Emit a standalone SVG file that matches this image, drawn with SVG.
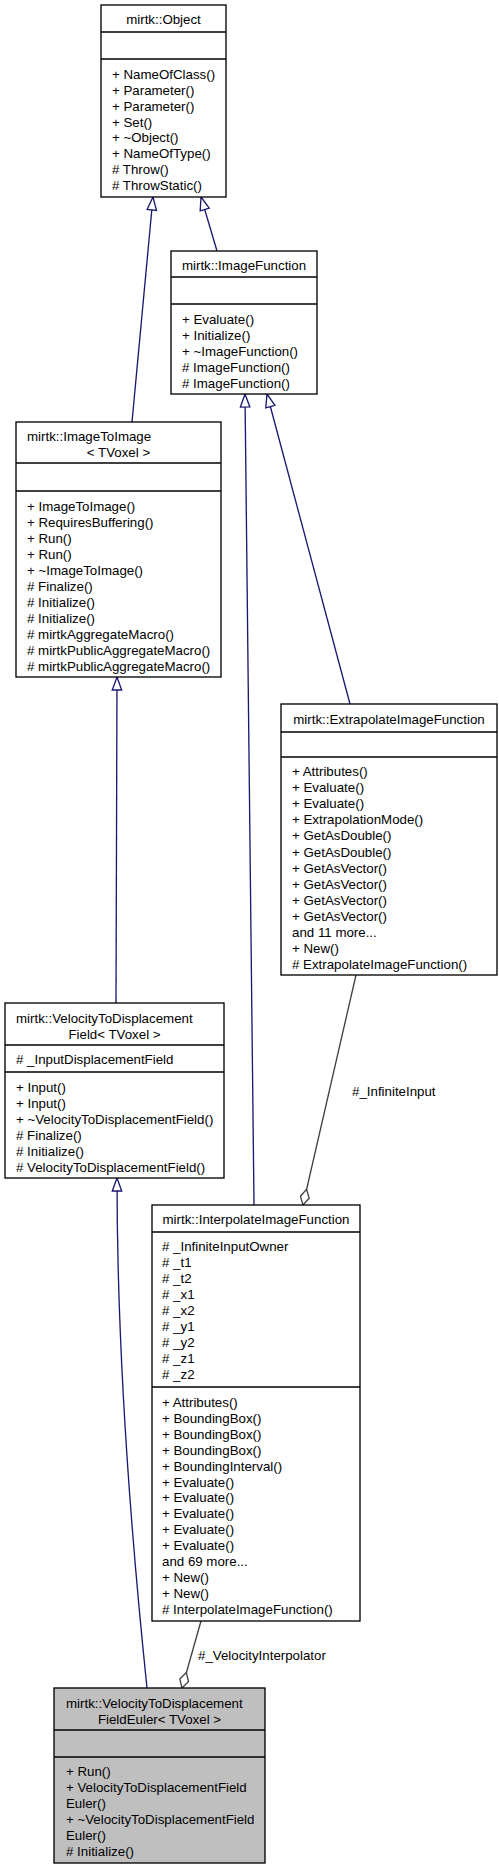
<svg xmlns="http://www.w3.org/2000/svg" width="499" height="1872" viewBox="0 0 499 1872">
<style>
text{font-family:"Liberation Sans",Arial,sans-serif;font-size:13.3px;fill:#000}
.c{text-anchor:middle}
.box{fill:#fff;stroke:#000;stroke-width:1.33}
.cur{fill:#bfbfbf;stroke:#000;stroke-width:1.33}
.sep{stroke:#000;stroke-width:1.33}
.inh{fill:none;stroke:#191970;stroke-width:1.33;marker-end:url(#tri)}
.use{fill:none;stroke:#404040;stroke-width:1.33;marker-end:url(#dia)}
</style>
<defs>
<marker id="tri" markerUnits="userSpaceOnUse" markerWidth="16" markerHeight="12" refX="13" refY="5" orient="auto" overflow="visible">
<path d="M0,0.3 L13,5 L0,9.7 Z" fill="#fff" stroke="#191970" stroke-width="1.33"/>
</marker>
<marker id="dia" markerUnits="userSpaceOnUse" markerWidth="18" markerHeight="10" refX="16" refY="4.5" orient="auto" overflow="visible">
<path d="M0,4.5 L8,0 L16,4.5 L8,9 Z" fill="#fff" stroke="#404040" stroke-width="1.33"/>
</marker>
</defs>
<rect width="499" height="1872" fill="#fff"/>

<g id="connectors">
<path class="inh" d="M132,422 L153,197"/>
<path class="inh" d="M217,251 L201,197"/>
<path class="inh" d="M350,704 L267,394"/>
<path class="inh" d="M254,1205 L245,394"/>
<path class="inh" d="M116,1003 L117,677"/>
<path class="inh" d="M147,1688 Q117,1400 117,1178"/>
<path class="use" d="M356,975 L303,1205"/>
<path class="use" d="M201,1621 L182,1688"/>
<text x="352" y="1096">#_InfiniteInput</text>
<text x="198" y="1660">#_VelocityInterpolator</text>
</g>

<g id="node-Object">
<rect class="box" x="101" y="5" width="125" height="192"/>
<line class="sep" x1="101" y1="32" x2="226" y2="32"/>
<line class="sep" x1="101" y1="59" x2="226" y2="59"/>
<text class="c" x="163.5" y="24">mirtk::Object</text>
<text x="112" y="79">+ NameOfClass()</text>
<text x="112" y="94.9">+ Parameter()</text>
<text x="112" y="110.7">+ Parameter()</text>
<text x="112" y="126.6">+ Set()</text>
<text x="112" y="142.4">+ ~Object()</text>
<text x="112" y="158.3">+ NameOfType()</text>
<text x="112" y="174.1"># Throw()</text>
<text x="112" y="190"># ThrowStatic()</text>
</g>

<g id="node-ImageFunction">
<rect class="box" x="171" y="251" width="146" height="143"/>
<line class="sep" x1="171" y1="277" x2="317" y2="277"/>
<line class="sep" x1="171" y1="304" x2="317" y2="304"/>
<text class="c" x="244" y="270">mirtk::ImageFunction</text>
<text x="182" y="323.5">+ Evaluate()</text>
<text x="182" y="339.5">+ Initialize()</text>
<text x="182" y="355.5">+ ~ImageFunction()</text>
<text x="182" y="371.5"># ImageFunction()</text>
<text x="182" y="387.5"># ImageFunction()</text>
</g>

<g id="node-ImageToImage">
<rect class="box" x="16" y="422" width="205" height="255"/>
<line class="sep" x1="16" y1="463" x2="221" y2="463"/>
<line class="sep" x1="16" y1="491" x2="221" y2="491"/>
<text x="27" y="440.5">mirtk::ImageToImage</text>
<text class="c" x="118.5" y="457">&lt; TVoxel &gt;</text>
<text x="27" y="511">+ ImageToImage()</text>
<text x="27" y="527">+ RequiresBuffering()</text>
<text x="27" y="543">+ Run()</text>
<text x="27" y="559">+ Run()</text>
<text x="27" y="575">+ ~ImageToImage()</text>
<text x="27" y="591"># Finalize()</text>
<text x="27" y="607"># Initialize()</text>
<text x="27" y="623"># Initialize()</text>
<text x="27" y="639"># mirtkAggregateMacro()</text>
<text x="27" y="655"># mirtkPublicAggregateMacro()</text>
<text x="27" y="671"># mirtkPublicAggregateMacro()</text>
</g>

<g id="node-ExtrapolateImageFunction">
<rect class="box" x="281" y="704" width="216" height="271"/>
<line class="sep" x1="281" y1="732" x2="497" y2="732"/>
<line class="sep" x1="281" y1="757" x2="497" y2="757"/>
<text class="c" x="389" y="724">mirtk::ExtrapolateImageFunction</text>
<text x="292" y="776">+ Attributes()</text>
<text x="292" y="792.1">+ Evaluate()</text>
<text x="292" y="808.2">+ Evaluate()</text>
<text x="292" y="824.3">+ ExtrapolationMode()</text>
<text x="292" y="840.4">+ GetAsDouble()</text>
<text x="292" y="856.5">+ GetAsDouble()</text>
<text x="292" y="872.6">+ GetAsVector()</text>
<text x="292" y="888.7">+ GetAsVector()</text>
<text x="292" y="904.8">+ GetAsVector()</text>
<text x="292" y="920.9">+ GetAsVector()</text>
<text x="292" y="937">and 11 more...</text>
<text x="292" y="953.1">+ New()</text>
<text x="292" y="969.2"># ExtrapolateImageFunction()</text>
</g>

<g id="node-VelocityToDisplacementField">
<rect class="box" x="5" y="1003" width="219" height="175"/>
<line class="sep" x1="5" y1="1045" x2="224" y2="1045"/>
<line class="sep" x1="5" y1="1072" x2="224" y2="1072"/>
<text x="16" y="1023">mirtk::VelocityToDisplacement</text>
<text class="c" x="114.5" y="1039">Field&lt; TVoxel &gt;</text>
<text x="16" y="1064"># _InputDisplacementField</text>
<text x="16" y="1092">+ Input()</text>
<text x="16" y="1107.9">+ Input()</text>
<text x="16" y="1123.8">+ ~VelocityToDisplacementField()</text>
<text x="16" y="1139.7"># Finalize()</text>
<text x="16" y="1155.6"># Initialize()</text>
<text x="16" y="1171.5"># VelocityToDisplacementField()</text>
</g>

<g id="node-InterpolateImageFunction">
<rect class="box" x="152" y="1205" width="208" height="416"/>
<line class="sep" x1="152" y1="1232" x2="360" y2="1232"/>
<line class="sep" x1="152" y1="1387" x2="360" y2="1387"/>
<text class="c" x="256" y="1224">mirtk::InterpolateImageFunction</text>
<text x="162" y="1250.5"># _InfiniteInputOwner</text>
<text x="162" y="1266.5"># _t1</text>
<text x="162" y="1282.5"># _t2</text>
<text x="162" y="1298.5"># _x1</text>
<text x="162" y="1314.5"># _x2</text>
<text x="162" y="1330.5"># _y1</text>
<text x="162" y="1346.5"># _y2</text>
<text x="162" y="1362.5"># _z1</text>
<text x="162" y="1378.5"># _z2</text>
<text x="162" y="1407">+ Attributes()</text>
<text x="162" y="1422.9">+ BoundingBox()</text>
<text x="162" y="1438.8">+ BoundingBox()</text>
<text x="162" y="1454.7">+ BoundingBox()</text>
<text x="162" y="1470.6">+ BoundingInterval()</text>
<text x="162" y="1486.5">+ Evaluate()</text>
<text x="162" y="1502.4">+ Evaluate()</text>
<text x="162" y="1518.3">+ Evaluate()</text>
<text x="162" y="1534.2">+ Evaluate()</text>
<text x="162" y="1550.1">+ Evaluate()</text>
<text x="162" y="1566">and 69 more...</text>
<text x="162" y="1581.9">+ New()</text>
<text x="162" y="1597.8">+ New()</text>
<text x="162" y="1613.7"># InterpolateImageFunction()</text>
</g>

<g id="node-VelocityToDisplacementFieldEuler">
<rect class="cur" x="54" y="1688" width="211" height="175"/>
<line class="sep" x1="54" y1="1730" x2="265" y2="1730"/>
<line class="sep" x1="54" y1="1757" x2="265" y2="1757"/>
<text x="66" y="1708">mirtk::VelocityToDisplacement</text>
<text class="c" x="159.5" y="1724">FieldEuler&lt; TVoxel &gt;</text>
<text x="66" y="1776">+ Run()</text>
<text x="66" y="1792">+ VelocityToDisplacementField</text>
<text x="66" y="1808">Euler()</text>
<text x="66" y="1824">+ ~VelocityToDisplacementField</text>
<text x="66" y="1840">Euler()</text>
<text x="66" y="1856"># Initialize()</text>
</g>
</svg>
